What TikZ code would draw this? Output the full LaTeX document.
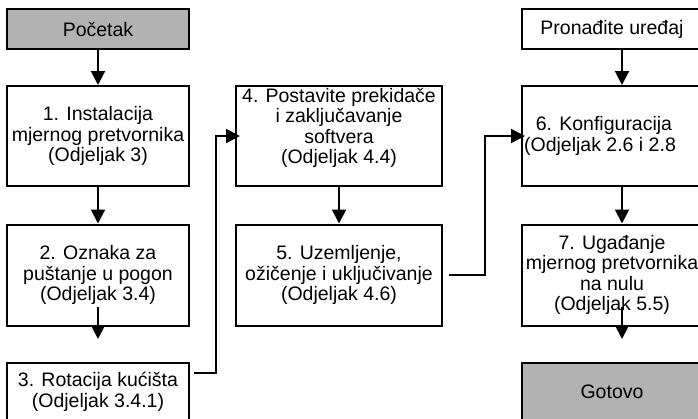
\documentclass[tikz,border=0pt]{standalone}
\usepackage{fontspec}
\setmainfont{Liberation Sans}
\usetikzlibrary{arrows.meta}
\tikzset{>={Triangle[length=14pt,width=14pt]}}
\tikzset{box/.style={draw,line width=2pt,align=center,inner sep=0pt,
    font=\fontsize{19.5}{20.5}\selectfont}}
\tikzset{endbox/.style={box,fill=gray!60}}

\begin{document}
\begin{tikzpicture}[x=1pt,y=-1pt,line width=2pt]
  \clip (0,0) rectangle (698,418);
  % left column
  \node[endbox,minimum width=182pt,minimum height=40pt] (start) at (98,29) {Početak};
  \node[box,minimum width=182pt,minimum height=100pt] (s1) at (98,136) {1. Instalacija\\mjernog pretvornika\\(Odjeljak 3)};
  \node[box,minimum width=182pt,minimum height=101pt] (s2) at (98,275) {2. Oznaka za\\puštanje u pogon\\(Odjeljak 3.4)};
  \node[box,minimum width=182pt,minimum height=58pt] (s3) at (98,392) {3. Rotacija kućišta\\(Odjeljak 3.4.1)};
  % middle column
  \node[box,minimum width=206pt,minimum height=100pt] (s4) at (339,136) {4. Postavite prekidače\\i zaključavanje\\softvera\\(Odjeljak 4.4)\\[-6pt]\strut};
  \node[box,minimum width=206pt,minimum height=101pt] (s5) at (339,275) {5. Uzemljenje,\\ožičenje i uključivanje\\(Odjeljak 4.6)};
  % right column (runs past the right edge)
  \node[box,minimum width=180pt,minimum height=40pt] (find) at (612,29) {Pronađite uređaj};
  \node[box,minimum width=180pt,minimum height=100pt] (s6) at (612,136) {6. Konfiguracija\hspace*{16pt}\\(Odjeljak 2.6 i 2.8\hspace*{24pt}};
  \node[box,minimum width=180pt,minimum height=101pt] (s7) at (612,275) {7. Ugađanje\\mjernog pretvornika\\na nulu\\(Odjeljak 5.5)};
  \node[endbox,minimum width=180pt,minimum height=58pt] (done) at (612,392) {Gotovo};

  \draw[->] (start) -- (s1);
  \draw[->] (s1) -- (s2);
  \draw[->] ([yshift=20pt]s2.south) -- ([yshift=23pt]s3.north);
  \draw[->,shorten >=-5pt] ([shift={(4,-19)}]s3.east) -- ++(22,0) |- (s4.west);
  \draw[->] (s4) -- (s5);
  \draw[->,shorten >=-4pt] ([xshift=6pt]s5.east) -- ++(36,0) |- (s6.west);
  \draw[->] ([xshift=10pt]find.south) -- ([xshift=10pt]s6.north);
  \draw[->] ([xshift=10pt]s6.south) -- ([xshift=10pt]s7.north);
  \draw[->] ([shift={(10pt,20pt)}]s7.south) -- ([shift={(10pt,23pt)}]done.north);
\end{tikzpicture}
\end{document}
